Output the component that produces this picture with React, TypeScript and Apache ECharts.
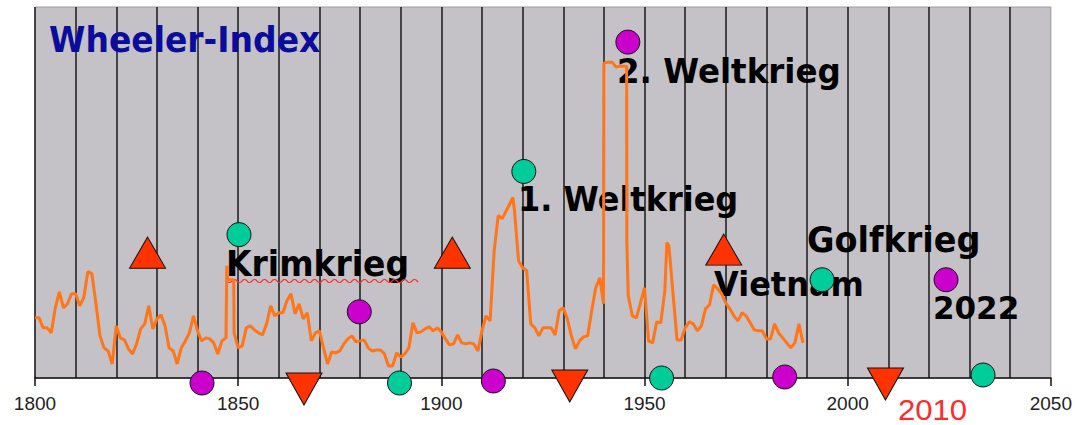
import React, { useEffect, useRef } from "react";
import * as echarts from "echarts";

// Wheeler-Index (arbitrary units, yearly readings)
const wheeler1800to1849 = [
  60, 60, 50, 50, 45, 70, 86, 70, 74, 84,
  84, 72, 80, 106, 104, 74, 42, 30, 27, 14,
  52, 40, 38, 29, 24, 34, 49, 54, 72, 49,
  59, 63, 52, 30, 27, 14, 30, 37, 45, 62,
  47, 37, 40, 39, 35, 24, 37, 40, 98, 45,
];
const wheeler1850to1899 = [
  30, 32, 50, 52, 48, 45, 43, 54, 72, 62,
  65, 65, 77, 84, 64, 74, 59, 65, 37, 45,
  47, 30, 14, 26, 25, 27, 34, 39, 42, 36,
  37, 38, 30, 27, 28, 28, 24, 12, 12, 25,
  21, 24, 30, 55, 45, 46, 49, 51, 47, 50,
];
const wheeler1900to1945 = [
  46, 39, 33, 34, 43, 35, 34, 35, 34, 27,
  47, 62, 57, 127, 162, 159, 167, 175, 167, 117,
  110, 107, 54, 50, 42, 50, 50, 50, 43, 67,
  70, 59, 42, 29, 37, 41, 42, 67, 90, 100,
  314, 315, 315, 310, 311, 311,
];
const wheeler1946to1989 = [
  82, 62, 60, 75, 90, 37, 35, 56, 55, 87,
  132, 85, 38, 38, 50, 56, 54, 47, 52, 69,
  73, 93, 89, 84, 75, 69, 62, 57, 65, 62,
  55, 48, 47, 47, 39, 39, 54, 45, 40, 35,
  30, 35, 54, 35,
];
// readings between whole years (sharp jumps)
const subYearYears = [1847.2, 1847.4, 1848.9, 1917.6, 1939.9, 1945.6, 1945.65, 1955.5];
const subYearValues = [112, 98, 98, 180, 74, 311, 135, 135];

// markers
const upTriangleYears = [1827.7, 1902.7, 1969.5];
const upTriangleValues = [125, 125, 128];
const downTriangleYears = [1866.2, 1931.6, 2009.3];
const downTriangleValues = [-11, -8, -6];
const greenYears = [1850.2, 1920.3, 1993.7, 1889.7, 1954.2, 2033.3];
const greenValues = [143, 206, 98, -5, 0, 3];
const magentaYears = [1879.8, 1945.9, 2024.2, 1841.1, 1912.8, 1984.5];
const magentaValues = [66, 335, 98, -5, -3, 1];

const xTickLabels = ["1800", "1850", "1900", "1950", "2000", "2050"];

function yearly(start: number, values: number[]): [number, number][] {
  return values.map((v, i) => [start + i, v]);
}
function pairs(xs: number[], ys: number[]): [number, number][] {
  return xs.map((x, i) => [x, ys[i]]);
}

export default function App() {
  const ref = useRef<HTMLDivElement>(null);
  useEffect(() => {
    if (!ref.current) return;
    const chart = echarts.init(ref.current, null, { renderer: "svg" });
    const lineData = [
      ...yearly(1800, wheeler1800to1849),
      ...yearly(1850, wheeler1850to1899),
      ...yearly(1900, wheeler1900to1945),
      ...yearly(1946, wheeler1946to1989),
      ...pairs(subYearYears, subYearValues),
    ].sort((a, b) => a[0] - b[0]);

    const wave: number[][] = [];
    for (let x = 227; x <= 418; x += 1) {
      wave.push([x, 281 + 1.6 * Math.sin(((x - 227) / 10) * 2 * Math.PI)]);
    }
    const bold = (size: number) => `bold ${size}px "DejaVu Sans", sans-serif`;
    const label = (text: string, x: number, y: number, size: number, fill = "#000") => ({
      type: "text",
      x,
      y,
      z: 1,
      scaleY: 1.05,
      style: { text, font: bold(size), fill, textAlign: "left", textVerticalAlign: "middle" },
    });

    const marker = (name: string, data: [number, number][], symbol: string, size: any, color: string, rotate = 0) => ({
      name,
      type: "scatter",
      data,
      symbol,
      symbolSize: size,
      symbolRotate: rotate,
      clip: false,
      z: 4,
      itemStyle: { color, borderColor: "#111", borderWidth: 1, opacity: 1 },
    });

    chart.setOption({
      animation: false,
      grid: {
        left: 35,
        right: 24,
        top: 7,
        bottom: 47,
        show: true,
        backgroundColor: "#c4c2c6",
        borderColor: "#9a9a9a",
        borderWidth: 1,
      },
      xAxis: {
        type: "value",
        min: 1800,
        max: 2050,
        interval: 50,
        axisLine: { show: true, lineStyle: { color: "#111", width: 1.5 } },
        axisTick: { show: true, length: 8, lineStyle: { color: "#111", width: 1.5 } },
        axisLabel: {
          show: true,
          margin: 16,
          fontSize: 19,
          fontFamily: '"Liberation Sans", Arial, sans-serif',
          color: "#222",
          formatter: (v: number) => xTickLabels.find((t) => Number(t) === v) ?? "",
        },
        splitLine: { show: true, showMaxLine: false, lineStyle: { color: "#1a1a1a", width: 1.5 } },
        minorTick: { show: false, splitNumber: 5 },
        minorSplitLine: { show: true, lineStyle: { color: "#1a1a1a", width: 1.5 } },
      },
      yAxis: { type: "value", min: 0, max: 370, show: false },
      graphic: [
        label("Wheeler-Index", 49, 40, 33, "#0c0c9c"),
        label("Krimkrieg", 226, 264, 33),
        label("1. Weltkrieg", 518, 200, 32),
        label("2. Weltkrieg", 617, 71, 32.5),
        label("Golfkrieg", 807, 240, 33.5),
        label("Vietnam", 714, 285, 32),
        label("2022", 933, 308, 31),
        {
          type: "polyline",
          z: 1,
          shape: { points: wave },
          style: { stroke: "#ff3030", lineWidth: 1.2, fill: null },
        },
        {
          type: "text",
          x: 898,
          y: 410,
          z: 1,
          scaleX: 1.07,
          style: {
            text: "2010",
            font: '29px "Liberation Sans", Arial, sans-serif',
            fill: "#ff2a2a",
            textAlign: "left",
            textVerticalAlign: "middle",
          },
        },
      ],
      series: [
        {
          name: "Wheeler-Index",
          type: "line",
          data: lineData,
          showSymbol: false,
          z: 2,
          lineStyle: { color: "#ff7518", width: 3 },
        },
        marker("up", pairs(upTriangleYears, upTriangleValues), "triangle", [36, 31], "#ff3300"),
        marker("down", pairs(downTriangleYears, downTriangleValues), "triangle", [36, 32], "#ff3300", 180),
        marker("green", pairs(greenYears, greenValues), "circle", 24, "#00cc99"),
        marker("magenta", pairs(magentaYears, magentaValues), "circle", 24, "#cc00cc"),
      ],
    });
    return () => chart.dispose();
  }, []);
  return (
    <div
      ref={ref}
      style={{ position: "fixed", left: 0, top: 0, width: 1075, height: 425, background: "#fff" }}
    />
  );
}
